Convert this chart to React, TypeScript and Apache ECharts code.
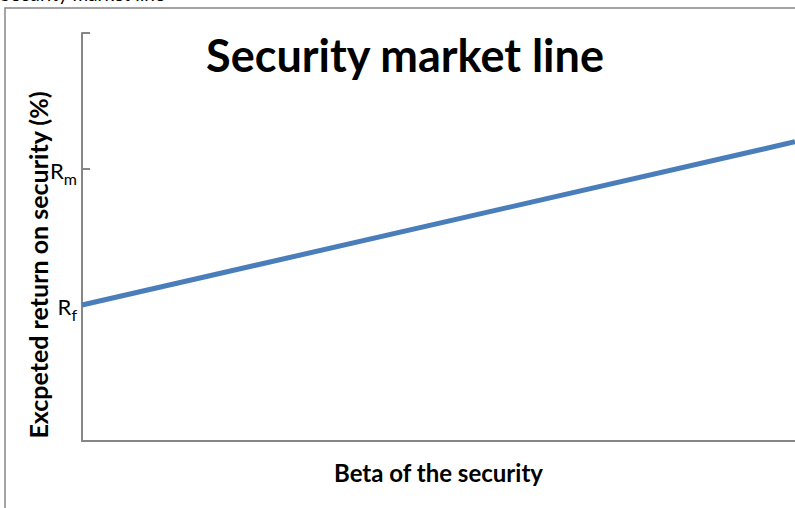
import React, { useEffect, useRef } from "react";
import * as echarts from "echarts";

const betaValues = [0, 1.2];
const expectedReturn = [5, 11];
const yTickLabels: Record<number, string> = { 5: "{r|R}{sub|f}", 10: "{r|R}{sub|m}" };
const titleText = "Security market line";
const xAxisTitle = "Beta of the security";
const yAxisTitle = "Excpeted return on security (%)";
const FONT = "Lato, 'Open Sans', sans-serif";

export default function App() {
  const ref = useRef<HTMLDivElement>(null);
  useEffect(() => {
    document.body.style.margin = "0";
    const chart = echarts.init(ref.current!, null, { renderer: "svg" });
    chart.setOption({
      animation: false,
      backgroundColor: "#ffffff",
      grid: { left: 82, top: 33, right: 0, bottom: 67, containLabel: false },
      xAxis: {
        type: "value",
        min: 0,
        max: 1.2,
        axisLine: { show: true, onZero: false, lineStyle: { color: "#868686", width: 2 } },
        axisTick: { show: false },
        axisLabel: { show: false },
        splitLine: { show: false },
        name: xAxisTitle,
        nameLocation: "middle",
        nameGap: 19,
        nameTextStyle: { fontFamily: FONT, fontWeight: "bold", fontSize: 24, color: "#000" },
      },
      yAxis: {
        type: "value",
        min: 0,
        max: 15,
        interval: 5,
        axisLine: { show: true, lineStyle: { color: "#868686", width: 2 } },
        axisTick: { show: true, inside: true, length: 8, lineStyle: { color: "#868686", width: 2 } },
        splitLine: { show: false },
        axisLabel: {
          margin: 5,
          verticalAlign: "middle",
          formatter: (v: number) => yTickLabels[v] || "",
          rich: {
            r: { fontFamily: FONT, fontSize: 22, lineHeight: 22, color: "#000", verticalAlign: "top", padding: [1, 0, 0, 0] },
            sub: { fontFamily: FONT, fontSize: 16, lineHeight: 16, color: "#000", verticalAlign: "top", padding: [12, 0, 0, 0] },
          },
        },
      },
      series: [
        {
          type: "line",
          data: betaValues.map((b, i) => [b, expectedReturn[i]]),
          symbol: "none",
          lineStyle: { color: "#4a7ebb", width: 5 },
          clip: false,
        },
      ],
      graphic: [
        {
          type: "rect",
          shape: { x: 5, y: 8, width: 800, height: 510 },
          style: { fill: "none", stroke: "#868686", lineWidth: 1.5 },
          z: 100,
        },
        {
          type: "text",
          x: 0,
          y: 3,
          style: { text: titleText, fontFamily: FONT, fontSize: 19, fill: "#000", textAlign: "left", textVerticalAlign: "bottom" },
        },
        {
          type: "text",
          x: 405,
          y: 55,
          style: { text: titleText, fontFamily: FONT, fontWeight: "bold", fontSize: 45, fill: "#000", textAlign: "center", textVerticalAlign: "middle" },
        },
        {
          type: "text",
          x: 38,
          y: 265,
          rotation: Math.PI / 2,
          style: { text: yAxisTitle, fontFamily: FONT, fontWeight: "bold", fontSize: 25, fill: "#000", textAlign: "center", textVerticalAlign: "middle" },
        },
      ],
    });
    return () => chart.dispose();
  }, []);
  return <div ref={ref} style={{ width: 795, height: 508, position: "absolute", left: 0, top: 0 }} />;
}
